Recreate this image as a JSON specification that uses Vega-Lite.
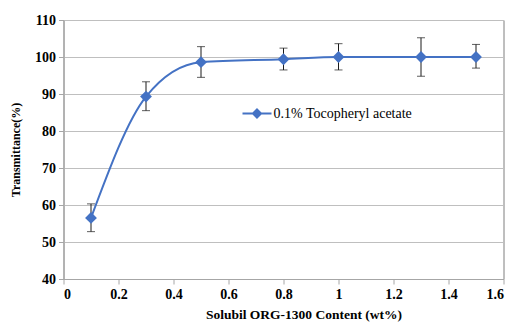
{
  "$schema": "https://vega.github.io/schema/vega-lite/v6.json",
  "width": 440,
  "height": 259,
  "autosize": {"type": "none"},
  "padding": {"left": 63.5, "top": 20, "right": 9.5, "bottom": 44},
  "background": "white",
  "config": {
    "font": "Liberation Serif",
    "view": {"stroke": "#7f7f7f", "strokeWidth": 1},
    "axis": {
      "labelFont": "Liberation Serif",
      "titleFont": "Liberation Serif",
      "labelFontWeight": "bold",
      "titleFontWeight": "bold",
      "labelFontSize": 14,
      "titleFontSize": 12,
      "labelColor": "#000",
      "titleColor": "#000",
      "domainColor": "#a6a6a6",
      "tickColor": "#a6a6a6",
      "gridColor": "#bfbfbf",
      "gridOpacity": 1,
      "labelOverlap": false,
      "tickSize": 5
    },
    "axisY": {
      "values": [40, 50, 60, 70, 80, 90, 100, 110],
      "labelPadding": 3,
      "titlePadding": 12
    }
  },
  "data": {
    "values": [
      {"x": 0.1, "y": 56.5, "lo": 52.8, "hi": 60.3, "series": "0.1% Tocopheryl acetate"},
      {"x": 0.3, "y": 89.3, "lo": 85.5, "hi": 93.3, "series": "0.1% Tocopheryl acetate"},
      {"x": 0.5, "y": 98.6, "lo": 94.5, "hi": 102.8, "series": "0.1% Tocopheryl acetate"},
      {"x": 0.8, "y": 99.4, "lo": 96.5, "hi": 102.4, "series": "0.1% Tocopheryl acetate"},
      {"x": 1.0, "y": 100.0, "lo": 96.5, "hi": 103.6, "series": "0.1% Tocopheryl acetate"},
      {"x": 1.3, "y": 100.0, "lo": 94.8, "hi": 105.2, "series": "0.1% Tocopheryl acetate"},
      {"x": 1.5, "y": 100.0, "lo": 97.0, "hi": 103.4, "series": "0.1% Tocopheryl acetate"}
    ]
  },
  "encoding": {
    "x": {
      "field": "x",
      "type": "quantitative",
      "scale": {"domain": [0, 1.6], "nice": false},
      "axis": {
        "title": "Solubil ORG-1300 Content (wt%)",
        "values": [0, 0.2, 0.4, 0.6, 0.8, 1.0, 1.2, 1.4, 1.6],
        "format": ".1~f",
        "grid": false,
        "labelPadding": 3,
        "titlePadding": 6,
        "titleFontSize": 13.5,
        "titleAnchor": "middle",
        "titleX": 240
      }
    }
  },
  "layer": [
    {
      "mark": {"type": "rule", "color": "#1a1a1a", "strokeWidth": 1},
      "encoding": {
        "y": {
          "field": "lo",
          "type": "quantitative",
          "scale": {"domain": [40, 110], "nice": false},
          "axis": {"title": "Transmittance(%)", "values": [40, 50, 60, 70, 80, 90, 100, 110]}
        },
        "y2": {"field": "hi"}
      }
    },
    {
      "mark": {"type": "tick", "color": "#1a1a1a", "thickness": 1, "size": 8, "orient": "horizontal"},
      "encoding": {"y": {"field": "lo", "type": "quantitative", "axis": {"title": "Transmittance(%)", "values": [40, 50, 60, 70, 80, 90, 100, 110]}}}
    },
    {
      "mark": {"type": "tick", "color": "#1a1a1a", "thickness": 1, "size": 8, "orient": "horizontal"},
      "encoding": {"y": {"field": "hi", "type": "quantitative", "axis": {"title": "Transmittance(%)", "values": [40, 50, 60, 70, 80, 90, 100, 110]}}}
    },
    {
      "mark": {"type": "line", "interpolate": "monotone", "strokeWidth": 2},
      "encoding": {
        "y": {"field": "y", "type": "quantitative", "axis": {"title": "Transmittance(%)", "values": [40, 50, 60, 70, 80, 90, 100, 110]}},
        "color": {
          "field": "series",
          "type": "nominal",
          "scale": {"range": ["#4472C4"]},
          "legend": {
            "title": null,
            "orient": "none",
            "legendX": 178,
            "legendY": 78,
            "symbolType": "M-1,0H1M0,-0.28L0.28,0L0,0.28L-0.28,0Z",
            "symbolSize": 841,
            "symbolStrokeWidth": 2,
            "symbolFillColor": "#4472C4",
            "symbolStrokeColor": "#4472C4",
            "labelFont": "Liberation Serif",
            "labelFontSize": 14,
            "labelColor": "#000",
            "labelOffset": 1
          }
        }
      }
    },
    {
      "mark": {"type": "point", "shape": "diamond", "filled": true, "size": 140, "opacity": 1, "color": "#4472C4"},
      "encoding": {"y": {"field": "y", "type": "quantitative", "axis": {"title": "Transmittance(%)", "values": [40, 50, 60, 70, 80, 90, 100, 110]}}}
    }
  ]
}
